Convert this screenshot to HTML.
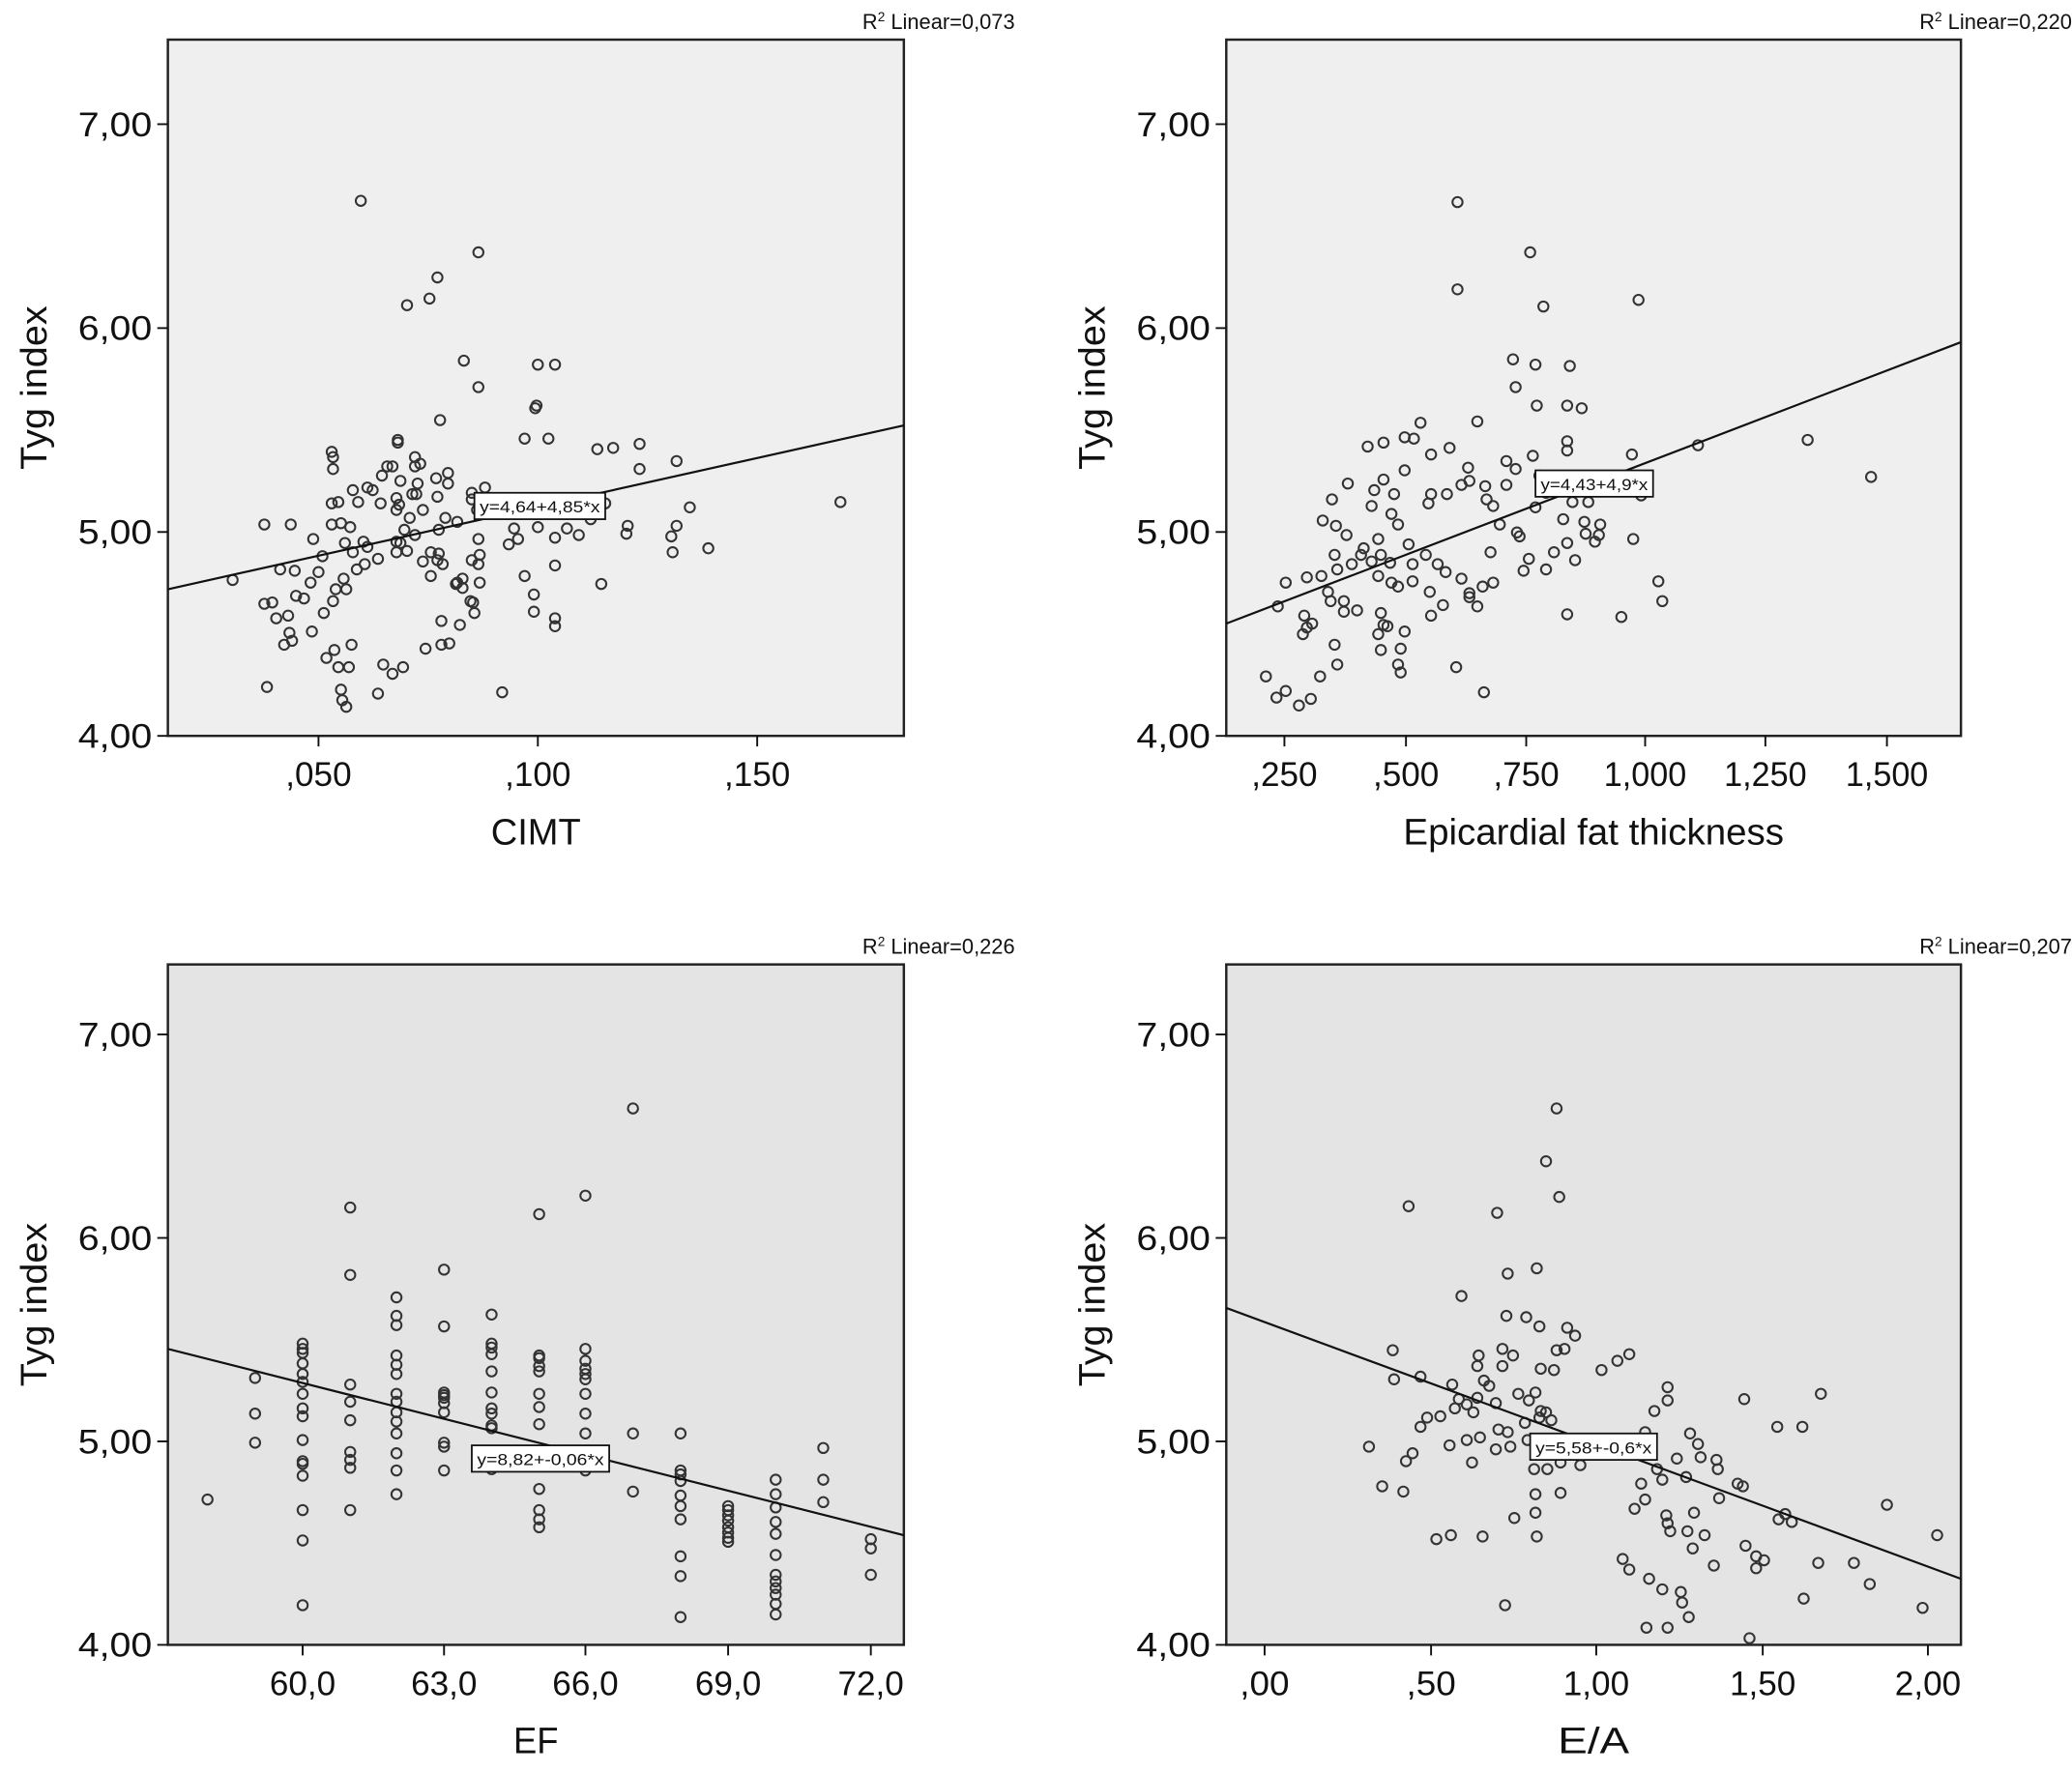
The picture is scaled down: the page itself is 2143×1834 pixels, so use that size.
<!DOCTYPE html>
<html><head><meta charset="utf-8">
<style>
html,body{margin:0;padding:0;background:#fff;width:2143px;height:1834px;overflow:hidden}
svg{display:block}
text{font-family:"Liberation Sans Narrow","Liberation Sans",sans-serif;fill:#111}
</style></head>
<body>
<svg id="s" width="2143" height="1834" viewBox="0 0 1568 1342" xmlns="http://www.w3.org/2000/svg">
<!-- Panel 1 -->
<rect x="127" y="30" width="557" height="527" fill="#efefef" stroke="#222" stroke-width="1.8"/>
<rect x="928" y="30" width="556" height="527" fill="#efefef" stroke="#222" stroke-width="1.8"/>
<rect x="127" y="730" width="557" height="515" fill="#e4e4e4" stroke="#222" stroke-width="1.8"/>
<rect x="928" y="730" width="556" height="515" fill="#e4e4e4" stroke="#222" stroke-width="1.8"/>
<g id="pts" fill="none" stroke="#333" stroke-width="1.5"></g>
<g stroke="#111" stroke-width="1.6">
<line x1="127" y1="446" x2="684" y2="322"/>
<line x1="928" y1="472" x2="1484" y2="259"/>
<line x1="127" y1="1021" x2="684" y2="1162"/>
<line x1="928" y1="990" x2="1484" y2="1195"/>
</g>
<g id="ticks" stroke="#111" stroke-width="1.4"></g>
<g id="labels"></g>
<!-- equation boxes -->
<g font-size="12">
<rect x="359" y="373" width="99" height="20" fill="#fff" stroke="#111" stroke-width="1.3"/>
<text x="408.5" y="388" text-anchor="middle" font-size="12" textLength="91" lengthAdjust="spacingAndGlyphs">y=4,64+4,85*x</text>
<rect x="1162" y="356" width="89" height="20" fill="#fff" stroke="#111" stroke-width="1.3"/>
<text x="1206.5" y="371" text-anchor="middle" font-size="12" textLength="81" lengthAdjust="spacingAndGlyphs">y=4,43+4,9*x</text>
<rect x="357" y="1094" width="104" height="20" fill="#fff" stroke="#111" stroke-width="1.3"/>
<text x="409" y="1109" text-anchor="middle" font-size="12" textLength="96" lengthAdjust="spacingAndGlyphs">y=8,82+-0,06*x</text>
<rect x="1158" y="1085" width="96" height="20" fill="#fff" stroke="#111" stroke-width="1.3"/>
<text x="1206" y="1100" text-anchor="middle" font-size="12" textLength="88" lengthAdjust="spacingAndGlyphs">y=5,58+-0,6*x</text>
</g>
</svg>
<script>
var NS="http://www.w3.org/2000/svg";
function el(p,t,a,txt){var e=document.createElementNS(NS,t);for(var k in a)e.setAttribute(k,a[k]);if(txt!==undefined)e.textContent=txt;p.appendChild(e);return e;}
var pts=document.getElementById('pts'),tk=document.getElementById('ticks'),lb=document.getElementById('labels');
var P1=[[273,152],[362,191],[331,210],[325,226],[308,231],[351,273],[407,276],[420,276],[362,293],[333,318],[405,309],[406,307],[397,332],[415,332],[464,339],[452,340],[484,336],[512,349],[251,342],[252,346],[301,333],[301,335],[314,346],[314,353],[297,353],[293,353],[267,371],[278,369],[282,371],[289,360],[303,364],[312,374],[300,377],[300,386],[302,382],[330,362],[339,358],[339,366],[315,374],[310,392],[331,376],[337,392],[367,369],[357,373],[251,381],[256,380],[258,396],[271,380],[251,397],[261,411],[288,381],[200,397],[220,397],[237,408],[275,410],[278,414],[314,405],[300,410],[303,411],[306,401],[265,399],[332,401],[357,378],[361,386],[346,395],[389,400],[407,399],[420,407],[392,408],[438,405],[429,400],[474,404],[512,398],[509,418],[508,406],[536,415],[475,398],[484,355],[522,384],[458,381],[447,393],[362,408],[332,419],[326,418],[335,427],[357,424],[331,424],[300,418],[286,423],[276,427],[267,418],[244,421],[223,432],[241,433],[212,431],[176,439],[200,457],[206,456],[224,451],[230,453],[235,441],[254,446],[262,446],[219,479],[221,485],[236,478],[209,468],[252,455],[260,438],[270,431],[245,464],[218,466],[215,488],[247,498],[290,503],[297,510],[322,491],[334,488],[346,441],[350,438],[362,427],[363,441],[350,445],[356,455],[334,470],[359,464],[358,456],[385,412],[420,428],[420,468],[420,474],[404,463],[404,450],[397,436],[455,442],[340,487],[348,473],[363,420],[305,505],[286,525],[264,505],[256,505],[258,522],[259,530],[262,535],[266,488],[380,524],[308,417],[320,425],[326,436],[345,442],[320,386],[316,366],[318,351],[252,355],[202,520],[636,380],[253,492]];
var P2=[[1103,153],[1158,191],[1103,219],[1168,232],[1240,227],[1145,272],[1162,276],[1147,293],[1188,277],[1163,307],[1186,307],[1197,309],[1118,319],[1075,320],[1063,331],[1047,335],[1070,332],[1097,339],[1140,349],[1160,345],[1186,334],[1186,341],[1235,344],[1368,333],[1285,337],[1416,361],[1242,375],[1236,408],[1255,440],[1258,455],[1227,467],[1186,465],[1153,432],[1128,418],[1130,441],[1106,438],[1112,452],[1094,433],[1088,427],[1079,420],[1069,427],[1066,412],[1058,397],[1052,426],[1032,415],[1043,408],[1053,389],[1081,381],[1083,374],[1095,374],[1106,367],[1111,354],[1112,364],[1124,368],[1125,378],[1130,383],[1135,397],[1148,403],[1150,406],[1140,367],[1147,355],[1165,360],[1170,373],[1162,384],[1190,380],[1183,393],[1199,395],[1202,380],[1211,397],[1186,411],[1200,404],[1210,405],[1192,424],[1170,431],[1157,423],[1176,418],[1207,410],[1047,363],[1040,371],[1038,383],[1055,374],[1083,344],[1063,356],[1035,338],[1020,366],[1008,378],[1001,394],[1011,398],[1019,405],[1030,420],[1038,425],[1043,436],[1045,420],[1053,441],[1058,444],[1023,427],[1010,420],[1012,431],[1017,455],[1017,463],[1027,462],[1005,448],[1000,436],[989,437],[973,441],[967,459],[987,466],[993,472],[989,475],[986,480],[1007,455],[1045,464],[1047,473],[1050,474],[1063,478],[1043,480],[1060,491],[1058,503],[1060,509],[1069,440],[1083,466],[1092,458],[1112,449],[1122,444],[1118,459],[1010,488],[1012,503],[999,512],[973,523],[958,512],[966,528],[992,529],[983,534],[1045,492],[1102,505],[1123,524],[1082,448]];
var C3={157:[1135],193:[1043,1070,1092],229:[1017,1021,1024,1032,1040,1046,1055,1066,1072,1090,1106,1108,1117,1143,1166,1215],265:[914,965,1048,1061,1075,1099,1105,1111,1143],300:[982,996,1003,1026,1033,1040,1055,1061,1069,1076,1085,1100,1113,1131],336:[961,1004,1054,1056,1058,1062,1069,1092,1095,1113],372:[995,1017,1020,1025,1038,1054,1066,1070,1079,1081,1103,1112],408:[919,1026,1028,1034,1038,1055,1065,1078,1098,1127,1143,1150,1156],443:[905,1021,1030,1036,1040,1044,1055,1070,1085,1101,1106,1113],479:[839,1085,1129],515:[1085,1113,1116,1121,1132,1140,1150,1178,1193,1224],551:[1140,1143,1147,1151,1156,1160,1164,1167],587:[1120,1131,1141,1152,1161,1177,1192,1197,1202,1207,1214,1222],623:[1096,1120,1137],659:[1165,1172,1192]};
var P3=[];for(var k in C3)C3[k].forEach(function(y){P3.push([+k,y]);});
var P4=[[1178,839],[1170,879],[1180,906],[1066,913],[1133,918],[1163,960],[1141,964],[1106,981],[1155,997],[1140,996],[1186,1005],[1165,1004],[1184,1021],[1178,1022],[1145,1026],[1137,1021],[1119,1026],[1233,1025],[1118,1034],[1212,1037],[1176,1037],[1054,1022],[1055,1044],[1075,1042],[1099,1048],[1123,1045],[1137,1034],[1127,1049],[1118,1058],[1104,1059],[1110,1063],[1101,1066],[1115,1069],[1132,1062],[1149,1055],[1162,1054],[1157,1060],[1166,1068],[1165,1073],[1170,1069],[1174,1075],[1154,1077],[1141,1084],[1134,1082],[1120,1088],[1110,1090],[1097,1094],[1114,1107],[1132,1097],[1143,1095],[1156,1090],[1161,1112],[1171,1112],[1181,1107],[1196,1109],[1181,1130],[1162,1131],[1162,1145],[1146,1149],[1122,1163],[1163,1163],[1098,1162],[1075,1080],[1064,1106],[1062,1129],[1046,1125],[1036,1095],[1080,1073],[1069,1100],[1090,1072],[1166,1036],[1192,1011],[1224,1030],[1262,1050],[1262,1060],[1252,1068],[1245,1084],[1243,1098],[1254,1112],[1269,1104],[1287,1103],[1276,1118],[1258,1120],[1242,1123],[1245,1135],[1237,1142],[1261,1147],[1262,1153],[1282,1145],[1264,1159],[1277,1159],[1290,1162],[1301,1134],[1315,1123],[1321,1170],[1329,1178],[1329,1187],[1335,1181],[1356,1152],[1351,1146],[1346,1150],[1376,1183],[1403,1183],[1365,1210],[1415,1199],[1455,1217],[1428,1139],[1466,1162],[1320,1059],[1345,1080],[1364,1080],[1378,1055],[1279,1085],[1285,1093],[1299,1105],[1300,1112],[1319,1125],[1246,1232],[1273,1213],[1262,1232],[1278,1224],[1272,1205],[1258,1203],[1139,1215],[1087,1165],[1233,1188],[1228,1180],[1281,1172],[1324,1240],[1297,1185],[1248,1195]];
[P1,P2,P3,P4].forEach(function(A){A.forEach(function(p){el(pts,'circle',{cx:p[0],cy:p[1],r:3.8});});});
function panel(x0,x1,yb,yt,yt7,xt,xtitle,r2){
  var step=(yb-yt7)/3;
  ['4,00','5,00','6,00','7,00'].forEach(function(s,i){var y=yb-i*step;
    el(tk,'line',{x1:x0-8,y1:y,x2:x0,y2:y});
    el(lb,'text',{x:x0-12,y:y+9,'text-anchor':'end','font-size':26,textLength:56,lengthAdjust:'spacingAndGlyphs'},s);});
  xt.forEach(function(t){el(tk,'line',{x1:t[0],y1:yb,x2:t[0],y2:yb+8});
    el(lb,'text',{x:t[0],y:yb+38,'text-anchor':'middle','font-size':26,textLength:t[1].length*12.5,lengthAdjust:'spacingAndGlyphs'},t[1]);});
  el(lb,'text',{x:(x0+x1)/2,y:yb+82,'text-anchor':'middle','font-size':28,textLength:xtitle[1],lengthAdjust:'spacingAndGlyphs'},xtitle[0]);
  var cy=(yt+yb)/2;
  el(lb,'text',{x:0,y:0,'text-anchor':'middle','font-size':28,textLength:124,lengthAdjust:'spacingAndGlyphs',transform:'translate('+(x0-92)+','+cy+') rotate(-90)'},'Tyg index');
  var t=el(lb,'text',{x:x1+84,y:yt-8,'text-anchor':'end','font-size':16});
  t.innerHTML='R<tspan dy="-6" font-size="10">2</tspan><tspan dy="6"> Linear=</tspan>'+r2;
}
panel(127,684,557,30,94,[[241,',050'],[407,',100'],[573,',150']],['CIMT',68],'0,073');
panel(928,1484,557,30,94,[[972,',250'],[1064,',500'],[1155,',750'],[1245,'1,000'],[1336,'1,250'],[1428,'1,500']],['Epicardial fat thickness',288],'0,220');
panel(127,684,1245,730,783,[[229,'60,0'],[336,'63,0'],[443,'66,0'],[551,'69,0'],[659,'72,0']],['EF',34],'0,226');
panel(928,1484,1245,730,783,[[957,',00'],[1083,',50'],[1208,'1,00'],[1334,'1,50'],[1459,'2,00']],['E/A',54],'0,207');
</script>
</body></html>
